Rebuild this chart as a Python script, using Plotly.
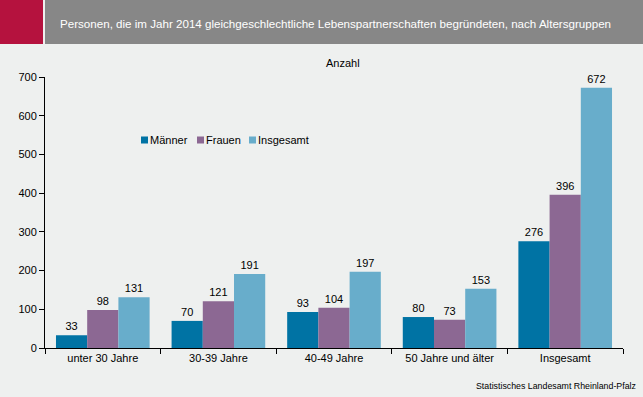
import plotly.graph_objects as go

categories = ["unter 30 Jahre", "30-39 Jahre", "40-49 Jahre", "50 Jahre und älter", "Insgesamt"]
maenner = [33, 70, 93, 80, 276]
frauen = [98, 121, 104, 73, 396]
insgesamt = [131, 191, 197, 153, 672]
y_ticks = [0, 100, 200, 300, 400, 500, 600, 700]
series_names = ["Männer", "Frauen", "Insgesamt"]
series_colors = ["#0073A4", "#8C6893", "#68ADCB"]

W, H = 643, 397
L, R, T, B = 45, 20, 77, 49
pw, ph = W - L - R, H - T - B

def px_x(x):
    return (x - L) / pw

def px_y(y):
    return (H - B - y) / ph

font = "Liberation Sans, Arial, sans-serif"
fig = go.Figure()
for name, vals, col in zip(series_names, [maenner, frauen, insgesamt], series_colors):
    fig.add_trace(go.Bar(name=name, x=categories, y=vals, marker_color=col,
                         marker_line_width=0, text=vals, textposition="outside",
                         textfont=dict(size=11, color="#000", family=font),
                         cliponaxis=False, showlegend=False, hoverinfo="skip"))

shapes = [
    dict(type="rect", xref="paper", yref="paper", x0=px_x(0), x1=px_x(43), y0=px_y(44), y1=px_y(0),
         fillcolor="#B5123E", line_width=0, layer="below"),
    dict(type="rect", xref="paper", yref="paper", x0=px_x(45), x1=px_x(643), y0=px_y(44), y1=px_y(0),
         fillcolor="#878787", line_width=0, layer="below"),
]
annotations = [
    dict(text="Personen, die im Jahr 2014 gleichgeschlechtliche Lebenspartnerschaften begründeten, nach Altersgruppen",
         xref="paper", yref="paper", x=px_x(58), y=px_y(23), xanchor="left", yanchor="middle",
         showarrow=False, font=dict(size=11.6, color="#fff", family=font)),
    dict(text="Anzahl", xref="paper", yref="paper", x=px_x(343), y=px_y(63),
         xanchor="center", yanchor="middle", showarrow=False, font=dict(size=11)),
    dict(text="Statistisches Landesamt Rheinland-Pfalz", xref="paper", yref="paper",
         x=px_x(638), y=px_y(386), xanchor="right", yanchor="middle", showarrow=False,
         font=dict(size=8.8)),
]
# custom compact legend
leg_x = [141, 197, 249]
for name, col, lx in zip(series_names, series_colors, leg_x):
    shapes.append(dict(type="rect", xref="paper", yref="paper", x0=px_x(lx), x1=px_x(lx + 7),
                       y0=px_y(143.5), y1=px_y(136.5), fillcolor=col, line_width=0))
    annotations.append(dict(text=name, xref="paper", yref="paper", x=px_x(lx + 7.5), y=px_y(140),
                            xanchor="left", yanchor="middle", showarrow=False,
                            font=dict(size=11), xshift=-1))

fig.update_layout(
    width=W, height=H, barmode="group", bargap=0.19, bargroupgap=0,
    margin=dict(l=L, r=R, t=T, b=B),
    paper_bgcolor="#EEF0EF", plot_bgcolor="#EEF0EF",
    font=dict(family=font, size=11, color="#000"),
    showlegend=False,
    xaxis=dict(showline=True, linecolor="#000", linewidth=1, ticks="outside", ticklen=5,
               tickcolor="#000", tickson="boundaries", showgrid=False,
               tickfont=dict(size=11)),
    yaxis=dict(range=[0, 700], tickvals=y_ticks, showline=True, linecolor="#000", linewidth=1,
               ticks="outside", ticklen=5, tickcolor="#000", showgrid=False, zeroline=False,
               tickfont=dict(size=11)),
    shapes=shapes,
    annotations=annotations,
)
fig.write_html("out.html", config={"displayModeBar": False},
               post_script="document.body.style.margin='0';document.body.style.overflow='hidden';")
